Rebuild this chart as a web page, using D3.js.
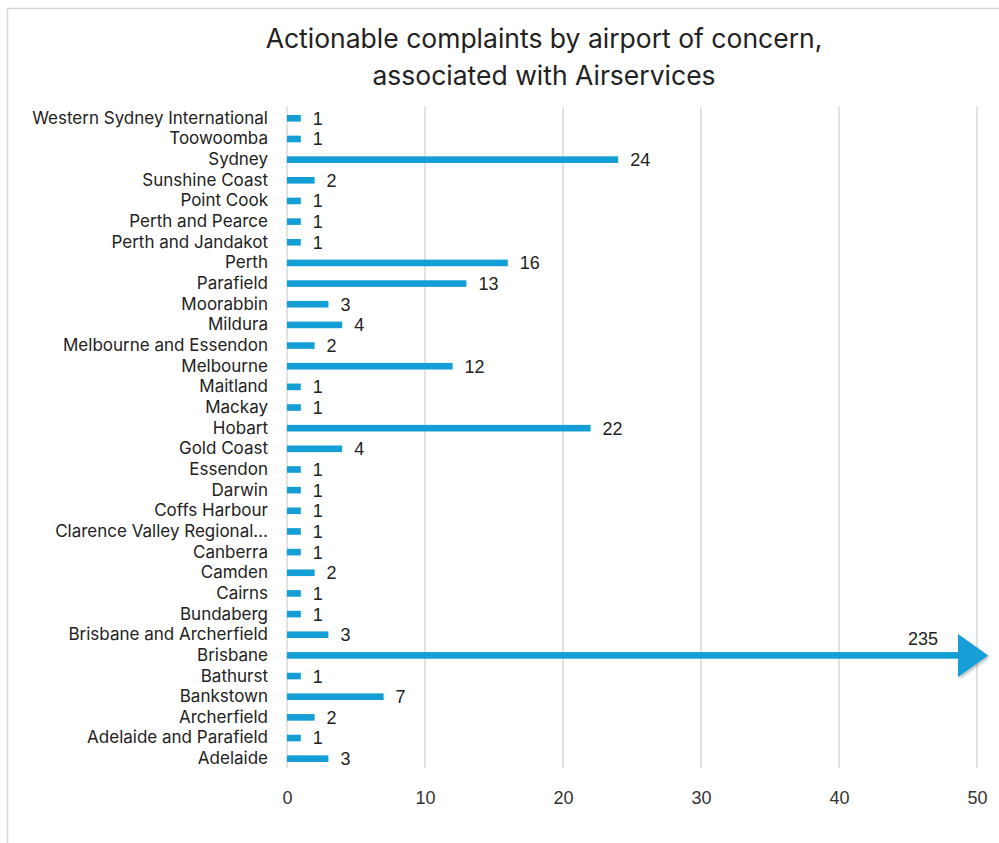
<!DOCTYPE html>
<html>
<head>
<meta charset="utf-8">
<script src="https://cdn.jsdelivr.net/npm/d3@7"></script>
<style>
  body { margin: 0; background: #fff; }
  svg { display: block; }
</style>
</head>
<body>
<div id="chart"></div>
<script>
const airports = [
    'Western Sydney International', 'Toowoomba', 'Sydney', 'Sunshine Coast', 'Point Cook',
    'Perth and Pearce', 'Perth and Jandakot', 'Perth', 'Parafield', 'Moorabbin', 'Mildura',
    'Melbourne and Essendon', 'Melbourne', 'Maitland', 'Mackay', 'Hobart', 'Gold Coast',
    'Essendon', 'Darwin', 'Coffs Harbour', 'Clarence Valley Regional\u2026', 'Canberra', 'Camden',
    'Cairns', 'Bundaberg', 'Brisbane and Archerfield', 'Brisbane', 'Bathurst', 'Bankstown',
    'Archerfield', 'Adelaide and Parafield', 'Adelaide'
];
const complaints = [
    1, 1, 24, 2, 1,
    1, 1, 16, 13, 3, 4,
    2, 12, 1, 1, 22, 4,
    1, 1, 1, 1, 1, 2,
    1, 1, 3, 235, 1, 7,
    2, 1, 3
];
const xTicks = [0, 10, 20, 30, 40, 50];
const titleLines = ['Actionable complaints by airport of concern,', 'associated with Airservices'];

const w = 999;
const h = 843;
const barColor = '#139ed6';
const gridColor = '#d9d9d9';
const labelFont = 'Inter, "Open Sans", sans-serif';
const numFont = '"Liberation Sans", Arial, sans-serif';

const svg = d3.select('#chart')
    .append('svg')
    .attr('width', w)
    .attr('height', h);

// chart frame (cut off at right and bottom like the source)
svg.append('rect')
    .attr('x', 7.5)
    .attr('y', 8.5)
    .attr('width', w + 10)
    .attr('height', h + 10)
    .attr('fill', '#fff')
    .attr('stroke', gridColor)
    .attr('stroke-width', 1.5);

const x = d3.scaleLinear()
    .domain([0, 50])
    .range([287, 977]);

const y = d3.scaleBand()
    .domain(airports)
    .range([108, 769])
    .paddingInner(0.68)
    .paddingOuter(0.34);

const data = airports.map((name, i) => ({ name, value: complaints[i] }));

// title
svg.append('g')
    .selectAll('text')
    .data(titleLines)
    .enter()
    .append('text')
    .attr('x', 544)
    .attr('y', (d, i) => 48 + i * 37)
    .attr('text-anchor', 'middle')
    .attr('font-family', labelFont)
    .attr('font-size', 26.5)
    .attr('fill', '#222')
    .text((d) => d);

// gridlines
svg.append('g')
    .selectAll('line')
    .data(xTicks)
    .enter()
    .append('line')
    .attr('x1', (d) => x(d))
    .attr('x2', (d) => x(d))
    .attr('y1', 107)
    .attr('y2', 768)
    .attr('stroke', gridColor)
    .attr('stroke-width', 1.5);

// x axis labels
const xAxis = d3.axisBottom(x).tickValues(xTicks).tickSize(0).tickPadding(0);
const xAxisG = svg.append('g')
    .attr('transform', 'translate(0,804)')
    .call(xAxis);
xAxisG.select('.domain').remove();
xAxisG.selectAll('text')
    .attr('dy', 0)
    .attr('font-family', numFont)
    .attr('font-size', 18)
    .attr('fill', '#333');

// category labels
const yAxis = d3.axisLeft(y).tickSize(0).tickPadding(0);
const yAxisG = svg.append('g')
    .attr('transform', 'translate(268,0)')
    .call(yAxis);
yAxisG.select('.domain').remove();
yAxisG.selectAll('text')
    .attr('font-family', labelFont)
    .attr('font-size', 17)
    .attr('fill', '#222');

const maxX = x.domain()[1];
const arrowBase = x(maxX) - 19;

// bars
svg.append('g')
    .selectAll('rect')
    .data(data)
    .enter()
    .append('rect')
    .attr('x', x(0))
    .attr('y', (d) => y(d.name))
    .attr('width', (d) => d.value > maxX ? arrowBase - x(0) : x(d.value) - x(0))
    .attr('height', y.bandwidth())
    .attr('fill', barColor);

// value labels
svg.append('g')
    .selectAll('text')
    .data(data.filter((d) => d.value <= maxX))
    .enter()
    .append('text')
    .attr('x', (d) => x(d.value) + 12)
    .attr('y', (d) => y(d.name) + y.bandwidth() / 2)
    .attr('dy', '0.36em')
    .attr('font-family', numFont)
    .attr('font-size', 18)
    .attr('fill', '#222')
    .text((d) => d.value);

// overflow arrow for values beyond the axis
const defs = svg.append('defs');
const shadow = defs.append('filter')
    .attr('id', 'shadow')
    .attr('x', '-30%').attr('y', '-30%')
    .attr('width', '160%').attr('height', '160%');
shadow.append('feDropShadow')
    .attr('dx', 1.5).attr('dy', 1.5)
    .attr('stdDeviation', 1.5)
    .attr('flood-color', '#000')
    .attr('flood-opacity', 0.3);

const over = data.filter((d) => d.value > maxX);
over.forEach((d) => {
    const cy = y(d.name) + y.bandwidth() / 2;
    svg.append('path')
        .attr('d', `M${arrowBase},${cy - 21.5}L${arrowBase + 30},${cy}L${arrowBase},${cy + 21.5}Z`)
        .attr('fill', barColor)
        .attr('filter', 'url(#shadow)');
    svg.append('text')
        .attr('x', arrowBase - 20)
        .attr('y', cy - 10)
        .attr('text-anchor', 'end')
        .attr('font-family', numFont)
        .attr('font-size', 18)
        .attr('fill', '#222')
        .text(d.value);
});
</script>
</body>
</html>
